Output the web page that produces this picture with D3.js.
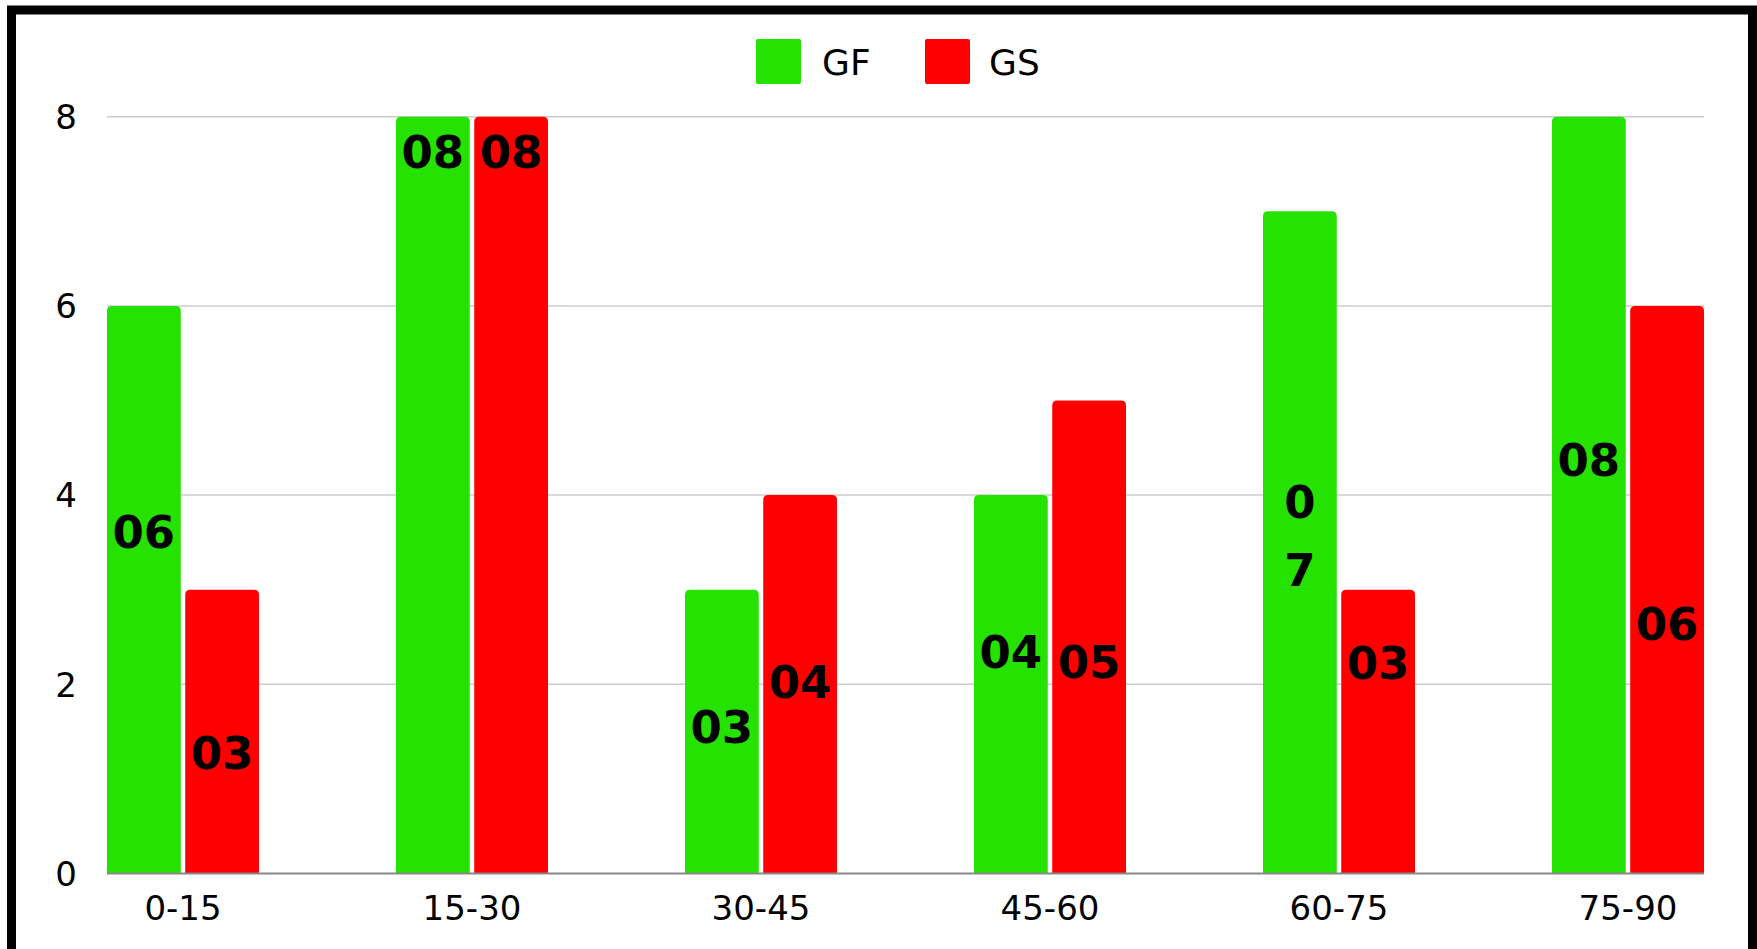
<!DOCTYPE html>
<html>
<head>
<meta charset="utf-8">
<script src="https://cdn.jsdelivr.net/npm/d3@7"></script>
<style>
  html, body { margin: 0; padding: 0; background: #fff; }
  svg { display: block; }
</style>
</head>
<body>
<svg id="chart" width="1757" height="949"></svg>
<script>
// ---- data ----
const categories = ["0-15", "15-30", "30-45", "45-60", "60-75", "75-90"];
const seriesNames = ["GF", "GS"];
const gfValues = [6, 8, 3, 4, 7, 8];
const gsValues = [3, 8, 4, 5, 3, 6];
const gfLabels = ["06", "08", "03", "04", "0\n7", "08"];
const gsLabels = ["03", "08", "04", "05", "03", "06"];
// where each label's centre sits, in value units
const gfLabelAt = [3.61, 7.63, 1.55, 2.35, 3.57, 4.38];
const gsLabelAt = [1.28, 7.63, 2.03, 2.24, 2.23, 2.64];
const yTicks = [0, 2, 4, 6, 8];

const colors = { GF: "#26e200", GS: "#ff0000" };

const svg = d3.select("#chart");
const plot = { left: 107, right: 1704, top: 116.7, bottom: 873.5 };

const font = "'DejaVu Sans', sans-serif";

// frame
svg.append("rect")
  .attr("x", 11.5).attr("y", 10)
  .attr("width", 1741).attr("height", 1000)
  .attr("fill", "#fff").attr("stroke", "#000").attr("stroke-width", 9);

const x0 = d3.scaleBand().domain(categories).range([plot.left, plot.right])
  .paddingInner(0.474).paddingOuter(0);
const x1 = d3.scaleBand().domain(seriesNames).range([0, x0.bandwidth()])
  .paddingInner(0.057).paddingOuter(0);
const y = d3.scaleLinear().domain([0, 8]).range([plot.bottom, plot.top]);

// gridlines
svg.append("g").selectAll("line").data(yTicks.filter(t => t !== 0)).join("line")
  .attr("x1", plot.left).attr("x2", plot.right)
  .attr("y1", d => y(d)).attr("y2", d => y(d))
  .attr("stroke", "#cccccc").attr("stroke-width", 1.5);

// y tick labels
const axisFs = 34;
svg.append("g").selectAll("text").data(yTicks).join("text")
  .attr("x", 77).attr("y", d => y(d) + 0.729 * axisFs / 2)
  .attr("text-anchor", "end")
  .attr("font-family", font).attr("font-size", axisFs).attr("fill", "#000")
  .text(d => d);

// bars
const rows = [];
categories.forEach((c, i) => {
  rows.push({ cat: c, s: "GF", v: gfValues[i], label: gfLabels[i], at: gfLabelAt[i] });
  rows.push({ cat: c, s: "GS", v: gsValues[i], label: gsLabels[i], at: gsLabelAt[i] });
});

function topRounded(x, yTop, w, yBot, r) {
  return `M${x},${yBot} L${x},${yTop + r} Q${x},${yTop} ${x + r},${yTop} ` +
         `L${x + w - r},${yTop} Q${x + w},${yTop} ${x + w},${yTop + r} L${x + w},${yBot} Z`;
}

svg.append("g").selectAll("path").data(rows).join("path")
  .attr("d", d => topRounded(x0(d.cat) + x1(d.s), y(d.v), x1.bandwidth(), y(0), 5))
  .attr("fill", d => colors[d.s]);

// baseline
svg.append("line")
  .attr("x1", plot.left).attr("x2", plot.right)
  .attr("y1", y(0)).attr("y2", y(0))
  .attr("stroke", "#888888").attr("stroke-width", 2);

// x labels
svg.append("g").selectAll("text").data(categories).join("text")
  .attr("x", d => x0(d) + x0.bandwidth() / 2)
  .attr("y", 907.6 + 0.729 * axisFs / 2)
  .attr("text-anchor", "middle")
  .attr("font-family", font).attr("font-size", axisFs).attr("fill", "#000")
  .text(d => d);

// data labels
const labFs = 45, lineH = 68;
const lab = svg.append("g").selectAll("text").data(rows).join("text")
  .attr("text-anchor", "middle")
  .attr("font-family", font).attr("font-weight", "bold")
  .attr("font-size", labFs).attr("fill", "#000");
lab.each(function(d) {
  const lines = d.label.split("\n");
  const cx = x0(d.cat) + x1(d.s) + x1.bandwidth() / 2;
  const cy = y(d.at) - (lines.length - 1) * lineH / 2 + 0.729 * labFs / 2;
  d3.select(this).selectAll("tspan").data(lines).join("tspan")
    .attr("x", cx).attr("y", (l, k) => cy + k * lineH)
    .text(l => l);
});

// legend
const legend = svg.append("g");
const legendItems = [
  { name: "GF", sx: 756, tx: 822 },
  { name: "GS", sx: 925, tx: 989 }
];
legend.selectAll("rect").data(legendItems).join("rect")
  .attr("x", d => d.sx).attr("y", 39).attr("width", 45).attr("height", 45)
  .attr("rx", 2).attr("fill", d => colors[d.name]);
legend.selectAll("text").data(legendItems).join("text")
  .attr("x", d => d.tx).attr("y", 75)
  .attr("font-family", font).attr("font-size", 36).attr("fill", "#000")
  .text(d => d.name);
</script>
</body>
</html>
